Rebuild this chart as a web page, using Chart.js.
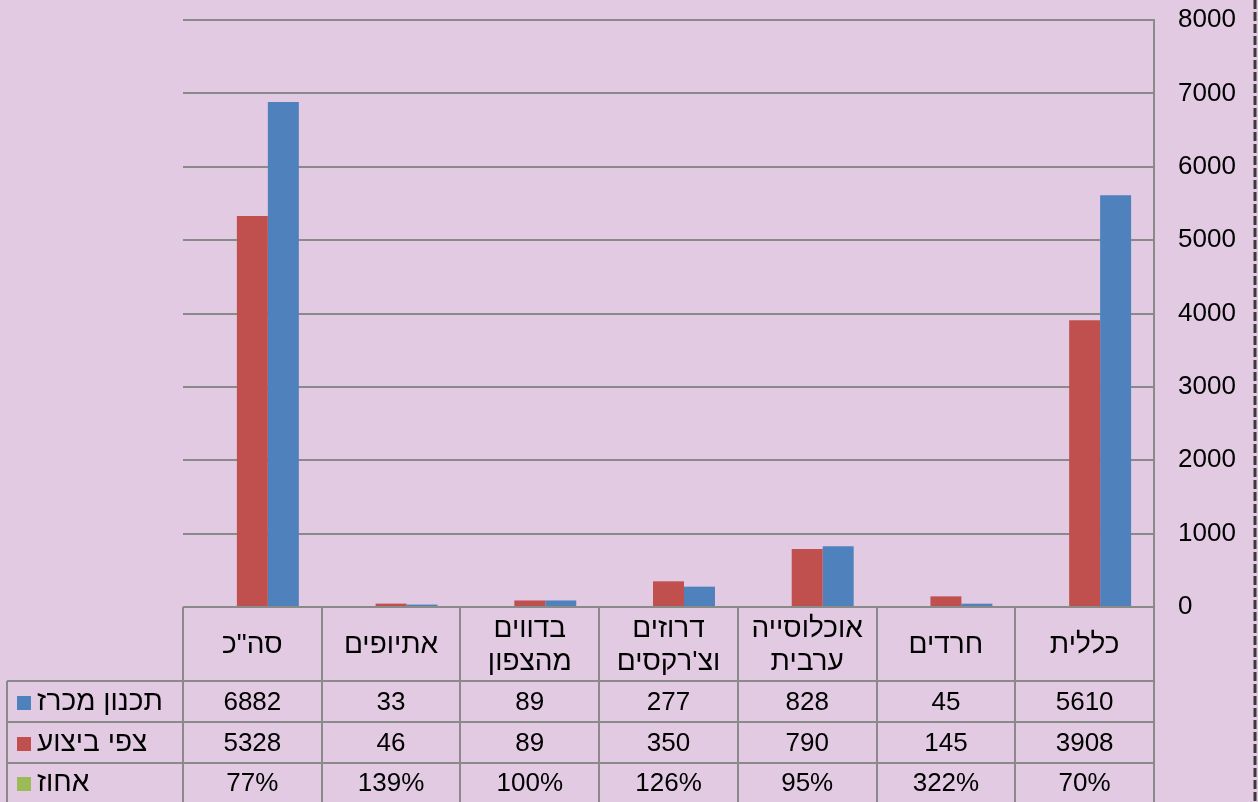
<!DOCTYPE html>
<html>
<head>
<meta charset="utf-8">
<script src="https://cdn.jsdelivr.net/npm/chart.js@4.4.1/dist/chart.umd.min.js"></script>
<style>
  body { margin: 0; background: #e2cbe2; }
  #c { display: block; }
</style>
</head>
<body>
<canvas id="c" width="1258" height="802"></canvas>
<script>
// left to right, as in the picture
var categories = [['סה"כ'], ['אתיופים'], ['בדווים', 'מהצפון'], ['דרוזים', "וצ'רקסים"], ['אוכלוסייה', 'ערבית'], ['חרדים'], ['כללית']];
var tender = [6882, 33, 89, 277, 828, 45, 5610];      // תכנון מכרז
var forecast = [5328, 46, 89, 350, 790, 145, 3908];   // צפי ביצוע
var pct = [77, 139, 100, 126, 95, 322, 70];           // אחוז
var yTicks = [0, 1000, 2000, 3000, 4000, 5000, 6000, 7000, 8000];

var seriesNames = ['תכנון מכרז', 'צפי ביצוע', 'אחוז'];
var seriesColors = ['#4f81bd', '#c0504d', '#9bbb59'];

var FONT = '"Liberation Sans", Arial, "DejaVu Sans", sans-serif';
var BG = '#e2cbe2';
var LINE = '#8a8a8a';

var tablePlugin = {
    id: 'tablePlugin',
    beforeDraw: function(chart) {
        var c = chart.ctx;
        c.save();
        c.fillStyle = BG;
        c.fillRect(0, 0, chart.width, chart.height);
        c.restore();
    },
    afterDraw: function(chart) {
        var c = chart.ctx;
        var x = chart.scales.x;
        var area = chart.chartArea;
        var left = area.left, right = area.right;
        var colW = (right - left) / categories.length;
        var top = area.bottom;
        var rows = [top + 74, top + 115, top + 156, chart.height];
        c.save();
        c.strokeStyle = LINE;
        c.lineWidth = 2;
        // top of the table = zero line
        c.beginPath();
        c.moveTo(left, top);
        c.lineTo(right, top);
        c.stroke();
        // vertical lines of the table
        for (var i = 0; i <= categories.length; i++) {
            var lx = Math.round(left + i * colW);
            c.beginPath();
            c.moveTo(lx, top);
            c.lineTo(lx, chart.height);
            c.stroke();
        }
        c.beginPath();
        c.moveTo(7, rows[0]);
        c.lineTo(7, chart.height);
        c.stroke();
        for (var r = 0; r < 3; r++) {
            c.beginPath();
            c.moveTo(7, rows[r]);
            c.lineTo(right, rows[r]);
            c.stroke();
        }
        c.fillStyle = '#000';
        c.font = '28px ' + FONT;
        c.direction = 'rtl';
        c.textAlign = 'center';
        c.textBaseline = 'middle';
        // header
        categories.forEach(function(lines, i) {
            var cx = x.getPixelForValue(i);
            if (lines.length === 1) {
                c.fillText(lines[0], cx, top + 38);
            } else {
                c.fillText(lines[0], cx, top + 22);
                c.fillText(lines[1], cx, top + 55);
            }
        });
        // values
        var rowData = [tender, forecast, pct.map(function(v) { return v + '%'; })];
        c.font = '26px ' + FONT;
        c.direction = 'ltr';
        rowData.forEach(function(vals, r) {
            var cy = (rows[r] + rows[r + 1]) / 2 + 1;
            vals.forEach(function(v, i) {
                c.fillText(String(v), x.getPixelForValue(i), cy);
            });
        });
        // legend keys
        c.font = '28px ' + FONT;
        c.direction = 'rtl';
        c.textAlign = 'left';
        seriesNames.forEach(function(name, r) {
            var cy = (rows[r] + rows[r + 1]) / 2 + 1;
            c.fillStyle = seriesColors[r];
            c.fillRect(17, Math.round(cy - 7), 14, 14);
            c.fillStyle = '#000';
            c.fillText(name, 37, cy);
        });
        c.restore();
        // the dark edge on the right
        c.save();
        c.strokeStyle = '#3a3a3a';
        c.lineWidth = 3;
        c.setLineDash([9, 3]);
        c.beginPath();
        c.moveTo(1255, 0);
        c.lineTo(1255, chart.height);
        c.stroke();
        c.restore();
    }
};

new Chart(document.getElementById('c').getContext('2d'), {
    type: 'bar',
    data: {
        labels: categories,
        datasets: [
            { label: seriesNames[2], data: pct.map(function(v) { return v / 100; }), backgroundColor: seriesColors[2] },
            { label: seriesNames[1], data: forecast, backgroundColor: seriesColors[1] },
            { label: seriesNames[0], data: tender, backgroundColor: seriesColors[0] }
        ]
    },
    options: {
        responsive: false,
        animation: false,
        layout: { padding: { left: 183, top: 20, bottom: 195, right: 0 } },
        datasets: { bar: { barPercentage: 1, categoryPercentage: 0.67, borderWidth: 0 } },
        plugins: { legend: { display: false }, tooltip: { enabled: false } },
        scales: {
            x: { display: false, grid: { display: false } },
            y: {
                position: 'right',
                min: 0, max: 8000,
                afterFit: function(s) { s.width = 104; s.paddingTop = 0; s.paddingBottom = 0; },
                afterBuildTicks: function(s) { s.ticks = yTicks.map(function(v) { return { value: v }; }); },
                ticks: {
                    color: '#000', font: { family: FONT, size: 26 }, padding: 24,
                    callback: function(v) { return String(v); }
                },
                grid: { color: LINE, lineWidth: 2, drawTicks: false },
                border: { display: true, color: LINE, width: 2 }
            }
        }
    },
    plugins: [tablePlugin]
});
</script>
</body>
</html>
